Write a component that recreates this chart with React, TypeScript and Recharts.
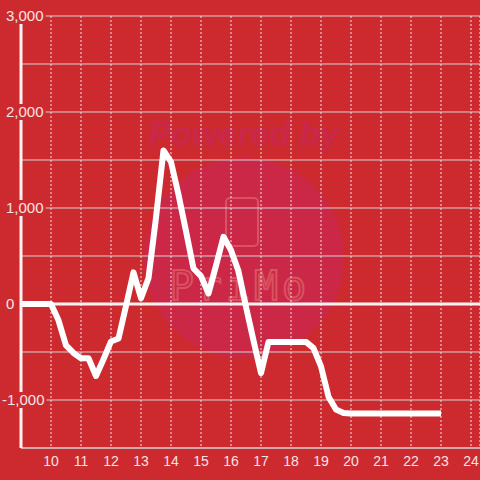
import { LineChart, Line, XAxis, YAxis, CartesianGrid, ReferenceLine } from "recharts"

const hours = [
  9, 10, 10.25, 10.5, 10.75, 11, 11.25, 11.5, 11.75, 12, 12.25, 12.5, 12.75, 13, 13.25, 13.5, 13.75, 14, 14.25,
  14.5, 14.75, 15, 15.25, 15.5, 15.75, 16, 16.25, 16.5, 16.75, 17, 17.25, 18.5, 18.75, 19, 19.25, 19.5, 19.75, 20, 23,
]
const pnl = [
  0, 0, -170, -430, -510, -565, -565, -750, -575, -390, -360, -20, 330, 60, 270, 900, 1600, 1480, 1140, 760, 370, 290,
  110, 400, 700, 560, 340, -30, -380, -720, -395, -395, -460, -650, -965, -1100, -1135, -1140, -1140,
]
const xTicks = [10, 11, 12, 13, 14, 15, 16, 17, 18, 19, 20, 21, 22, 23, 24]
const yTicks = [-1500, -1000, -500, 0, 500, 1000, 1500, 2000, 2500, 3000]
const yLabeled = [-1000, 0, 1000, 2000, 3000]

const data = hours.map((h, i) => ({ hour: h, pnl: pnl[i] }))

const bg = "#cd2a2f"
const textColor = "#f6e4e4"
const yFont = 15

// rough Arial/Liberation Sans advance widths
function textWidth(s: string, size: number) {
  let w = 0
  for (const c of s) w += c === "," ? 0.278 : c === "-" ? 0.333 : 0.556
  return w * size
}

function YTick({ y, payload }: any) {
  if (!yLabeled.includes(payload.value)) return <g />
  const label = payload.value.toLocaleString("en-US")
  const start = payload.value < 0 ? 6 - textWidth("-", yFont) + 1 : 6
  const w = textWidth(label, yFont)
  return (
    <g>
      <rect x={start - 2} y={y - 8} width={w + 4} height={16} fill={bg} />
      <text x={start} y={y} dy={5} textAnchor="start" fill={textColor} fontSize={yFont}>
        {label}
      </text>
    </g>
  )
}

export default function App() {
  return (
    <div
      style={{
        position: "absolute",
        top: 0,
        left: 0,
        width: 480,
        height: 480,
        background: bg,
        fontFamily: "'Liberation Sans', Arial, sans-serif",
        overflow: "hidden",
      }}
    >
      {/* faint watermark behind the chart */}
      <svg width={480} height={480} style={{ position: "absolute", top: 0, left: 0 }}>
        <circle cx={244} cy={258} r={100} fill="#cb2848" />
        <text x={244} y={145} textAnchor="middle" fontSize={34} fontWeight="bold" fontStyle="italic" fill="#c9284a">
          Powered by
        </text>
        <text
          x={240}
          y={300}
          textAnchor="middle"
          fontSize={40}
          fill="none"
          stroke="#d9525f"
          strokeWidth={2}
          letterSpacing={4}
          fontFamily="'DejaVu Sans Mono', monospace"
        >
          PriMo
        </text>
        <rect x={226} y={198} width={32} height={48} rx={4} fill="none" stroke="#d9525f" strokeWidth={2} />
      </svg>
      <div style={{ position: "absolute", top: 0, left: 0 }}>
        <LineChart width={480} height={480} data={data} margin={{ top: 16, right: 0, bottom: 0, left: 0 }}>
          <CartesianGrid vertical={false} stroke="#d4d4d4" strokeWidth={1} />
          <CartesianGrid horizontal={false} stroke="#e6e6e6" strokeDasharray="2 2" />
          <XAxis
            dataKey="hour"
            type="number"
            domain={[9, 24.3]}
            ticks={xTicks}
            allowDataOverflow
            height={32}
            tickLine={false}
            axisLine={{ stroke: "#d4d4d4" }}
            tick={{ fill: textColor, fontSize: 14 }}
          />
          <YAxis
            type="number"
            domain={[-1500, 3000]}
            ticks={yTicks}
            width={21}
            tickSize={0}
            tickMargin={0}
            tickLine={false}
            axisLine={{ stroke: "#f7f3f3", strokeWidth: 3 }}
            tick={<YTick />}
            interval={0}
          />
          <ReferenceLine y={0} stroke="#f7f3f3" strokeWidth={3} />
          <Line
            type="linear"
            dataKey="pnl"
            stroke="#ffffff"
            strokeWidth={6}
            strokeLinejoin="round"
            dot={false}
            isAnimationActive={false}
          />
        </LineChart>
      </div>
    </div>
  )
}
